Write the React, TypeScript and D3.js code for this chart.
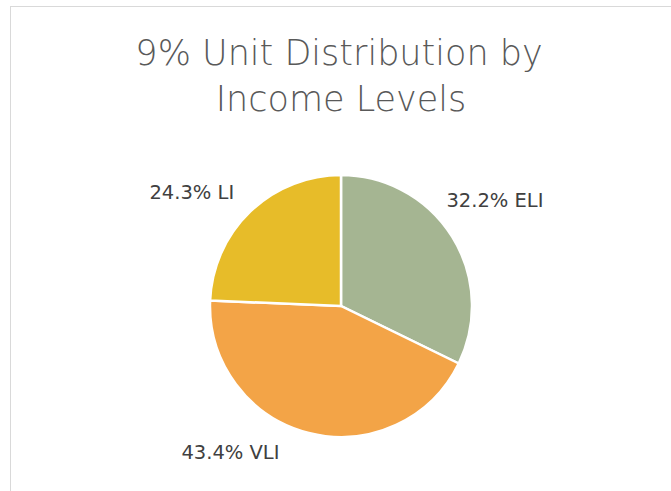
import React from "react";
import * as d3 from "d3";

const categories = ["ELI", "VLI", "LI"];
const values = [32.2, 43.4, 24.3];
const colors = ["#A5B592", "#F3A447", "#E7BC29"];
const titleLines = ["9% Unit Distribution by", "Income Levels"];

const W = 671;
const H = 491;

export default function App() {
  const cx = 341;
  const cy = 306;
  const r = 131;
  const pie = d3.pie<number>().sort(null).value((d) => d)(values);
  const arc = d3.arc<d3.PieArcDatum<number>>().innerRadius(0).outerRadius(r);
  const labelArc = d3.arc<d3.PieArcDatum<number>>().innerRadius(165).outerRadius(165);
  const nudges: [number, number][] = [
    [14, -18],
    [-70, -14],
    [-35, 5],
  ];
  return (
    <svg
      width={W}
      height={H}
      style={{ position: "absolute", left: 0, top: 0, background: "#fff" }}
    >
      <rect x={10.5} y={6.5} width={W} height={H} fill="#fff" stroke="#D9D9D9" strokeWidth={1} />
      <g fontFamily="'DejaVu Sans', sans-serif" fill="#595959" fontWeight={200} textAnchor="middle">
        {titleLines.map((t, i) => (
          <text key={i} x={cx - 2 + i * 2} y={65 + i * 46} fontSize={35}>
            {t}
          </text>
        ))}
      </g>
      <g transform={`translate(${cx},${cy})`}>
        {pie.map((p, i) => (
          <path key={i} d={arc(p) || ""} fill={colors[i]} stroke="#fff" strokeWidth={2.5} />
        ))}
        {pie.map((p, i) => {
          const [x, y] = labelArc.centroid(p);
          return (
            <text
              key={"l" + i}
              x={x + nudges[i][0]}
              y={y + nudges[i][1]}
              dy="0.35em"
              textAnchor="middle"
              fontFamily="'DejaVu Sans', sans-serif"
              fontSize={19.5}
              fill="#404040"
            >
              {`${values[i].toFixed(1)}% ${categories[i]}`}
            </text>
          );
        })}
      </g>
    </svg>
  );
}
